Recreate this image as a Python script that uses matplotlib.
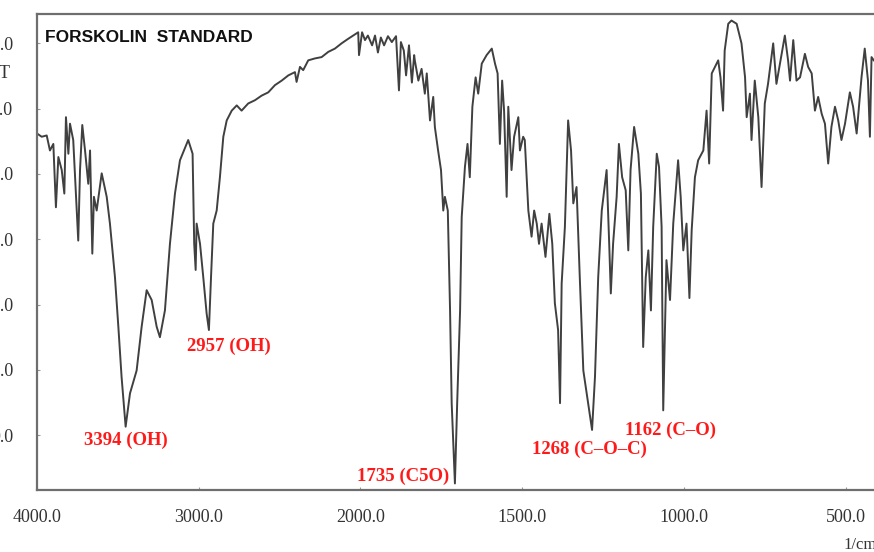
import numpy as np
import matplotlib
matplotlib.use("Agg")
import matplotlib.pyplot as plt

# IR spectrum of forskolin standard (wavenumber in 1/cm, transmittance in %T)
wavenumber = [
    4000, 3971, 3940, 3920, 3899, 3883, 3868, 3847, 3831, 3821, 3806, 3796,
    3776, 3745, 3734, 3720, 3703, 3683, 3672, 3658, 3648, 3631, 3600, 3569,
    3549, 3518, 3497, 3477, 3452, 3425, 3384, 3353, 3322, 3291, 3260, 3240,
    3209, 3178, 3147, 3116, 3065, 3038, 3028, 3019, 3013, 2992, 2972, 2951,
    2937, 2924, 2910, 2889, 2869, 2848, 2827, 2796, 2765, 2735, 2694, 2652,
    2611, 2570, 2529, 2487, 2446, 2405, 2395, 2374, 2354, 2323, 2281, 2240,
    2199, 2158, 2117, 2076, 2045, 2014, 2009, 1995, 1986, 1977, 1964, 1955,
    1946, 1937, 1927, 1915, 1903, 1890, 1881, 1875, 1866, 1859, 1850, 1841,
    1834, 1832, 1821, 1811, 1801, 1795, 1785, 1775, 1770, 1760, 1751, 1744,
    1739, 1730, 1723, 1718, 1708, 1701, 1692, 1687, 1677, 1669, 1662, 1654,
    1644, 1636, 1625, 1610, 1594, 1584, 1576, 1569, 1562, 1556, 1548, 1543,
    1533, 1525, 1512, 1507, 1497, 1492, 1481, 1471, 1463, 1455, 1448, 1440,
    1428, 1416, 1407, 1399, 1389, 1383, 1378, 1368, 1358, 1349, 1342, 1332,
    1322, 1311, 1296, 1284, 1275, 1265, 1254, 1239, 1231, 1226, 1219, 1208,
    1201, 1191, 1180, 1172, 1165, 1154, 1141, 1133, 1126, 1118, 1110, 1102,
    1095, 1084, 1077, 1069, 1064, 1054, 1043, 1033, 1018, 1010, 1002, 992,
    983, 976, 966, 956, 940, 930, 922, 914, 904, 894, 887, 879,
    874, 863, 853, 837, 822, 811, 806, 796, 791, 781, 770, 760,
    750, 740, 724, 714, 703, 688, 678, 672, 662, 652, 641, 626,
    616, 605, 595, 585, 574, 564, 554, 544, 533, 523, 513, 502,
    487, 477, 466, 451, 441, 431, 425, 420, 413,
]
transmittance = [
    46.2, 45.7, 45.9, 43.6, 44.6, 34.9, 42.6, 40.6, 37.0, 48.7, 43.1, 47.7,
    45.2, 29.8, 40.6, 47.5, 43.6, 38.5, 43.6, 27.8, 36.5, 34.4, 40.1, 36.5,
    32.4, 24.2, 16.6, 8.9, 1.3, 6.4, 9.9, 16.6, 22.2, 20.7, 16.6, 15.0,
    19.1, 29.3, 37.0, 42.1, 45.2, 43.1, 29.3, 25.3, 32.4, 29.3, 24.2, 18.6,
    16.1, 24.2, 32.4, 34.4, 39.5, 45.7, 48.2, 49.7, 50.5, 49.7, 50.8, 51.3,
    52.0, 52.5, 53.6, 54.3, 55.1, 55.6, 54.1, 56.4, 55.9, 57.4, 57.7, 57.9,
    58.7, 59.2, 60.0, 60.7, 61.2, 61.7, 58.2, 61.7, 60.5, 61.2, 59.7, 61.2,
    58.6, 60.9, 59.7, 61.1, 60.2, 61.1, 52.8, 60.2, 58.9, 55.1, 59.7, 54.0,
    58.2, 57.4, 54.3, 56.1, 52.3, 55.4, 48.2, 51.8, 47.2, 43.6, 40.6, 34.4,
    36.5, 34.4, 19.1, 4.9, -7.4, 4.9, 19.1, 33.4, 41.1, 44.6, 39.5, 50.3,
    54.8, 52.3, 56.9, 58.2, 59.2, 56.9, 55.4, 44.6, 54.3, 49.7, 36.5, 50.3,
    40.6, 45.7, 48.7, 43.6, 45.7, 45.2, 34.4, 30.4, 34.4, 32.4, 29.3, 32.4,
    27.3, 33.9, 29.3, 20.2, 16.1, 4.9, 23.2, 31.9, 48.2, 43.6, 35.5, 38.0,
    24.2, 9.9, 4.9, 0.8, 8.9, 24.2, 34.4, 40.6, 29.3, 21.7, 29.3, 36.5,
    44.6, 39.5, 37.5, 28.3, 40.6, 47.2, 43.1, 37.0, 13.5, 24.2, 28.3, 19.1,
    31.9, 43.1, 41.1, 31.9, 3.8, 26.8, 20.7, 32.4, 42.1, 36.5, 28.3, 32.4,
    21.0, 31.4, 39.5, 42.1, 43.6, 49.7, 41.6, 55.4, 56.4, 57.4, 54.8, 49.7,
    58.9, 63.0, 63.5, 63.0, 60.0, 54.8, 48.7, 52.3, 45.2, 54.3, 48.7, 38.0,
    50.8, 53.8, 60.0, 53.8, 56.9, 61.2, 57.4, 54.3, 60.5, 54.3, 54.8, 58.4,
    56.4, 55.4, 49.7, 51.8, 49.2, 47.7, 41.6, 47.2, 50.3, 48.2, 45.2, 47.7,
    52.5, 50.3, 46.2, 54.8, 59.2, 54.3, 45.7, 57.9, 57.4,
]

# peak annotations: text, x, y
peak_labels = ["3394 (OH)", "2957 (OH)", "1735 (C5O)", "1268 (C\u2013O\u2013C)", "1162 (C\u2013O)"]
label_x = [3450, 2813, 1869, 1291, 1040]
label_y = [-0.8, 13.6, -6.3, -2.1, 0.8]

x_ticks = [4000, 3000, 2000, 1500, 1000, 500]
y_ticks = [0, 10, 20, 30, 40, 50, 60]


# wavenumbers above 2000 are drawn at half scale
def fwd(x):
    x = np.asarray(x, dtype=float)
    return np.where(x >= 2000, 2000 + (x - 2000) / 2.0, x)


def inv(t):
    t = np.asarray(t, dtype=float)
    return np.where(t >= 2000, 2000 + (t - 2000) * 2.0, t)


fig = plt.figure(figsize=(8.74, 5.52), dpi=100)
ax = fig.add_axes([37 / 874, 62 / 552, 841 / 874, 476 / 552])

ax.plot(wavenumber, transmittance, color="#404040", lw=1.4)

ax.set_xscale("function", functions=(fwd, inv))
ax.set_xlim(4000, 400)
ax.set_ylim(-8.4, 64.5)

ax.set_xticks(x_ticks)
ax.set_xticklabels(["%.1f" % v for v in x_ticks])
ax.set_yticks(y_ticks)
ax.set_yticklabels(["%.1f" % v for v in y_ticks])
ax.tick_params(direction="in", length=2, color="#999999", labelcolor="#333333",
               labelsize=13)
ax.tick_params(axis="x", pad=14)
ax.tick_params(axis="y", pad=17)
for lab in ax.get_xticklabels() + ax.get_yticklabels():
    lab.set_fontfamily("Liberation Serif")

for side in ["left", "bottom", "top", "right"]:
    ax.spines[side].set_color("#6e6e6e")
    ax.spines[side].set_linewidth(1.6)

ax.text(0.01, 0.95, "FORSKOLIN  STANDARD", transform=ax.transAxes,
        fontsize=12.5, fontweight="bold", family="Liberation Sans",
        color="#111111", va="center", ha="left")

for txt, lx, ly in zip(peak_labels, label_x, label_y):
    ax.text(lx, ly, txt, color="#ff1a1a", fontsize=13.5, fontweight="bold",
            family="Liberation Serif", ha="center", va="center")

fig.text(10 / 874, 1 - 73 / 552, "%T", ha="right", va="center",
         fontsize=13, family="Liberation Serif", color="#333333")
fig.text(843 / 874, 1 - 545 / 552, "1/cm", ha="left", va="center",
         fontsize=12, family="Liberation Serif", color="#333333")

fig.savefig("out.png", dpi=100, facecolor="white")
